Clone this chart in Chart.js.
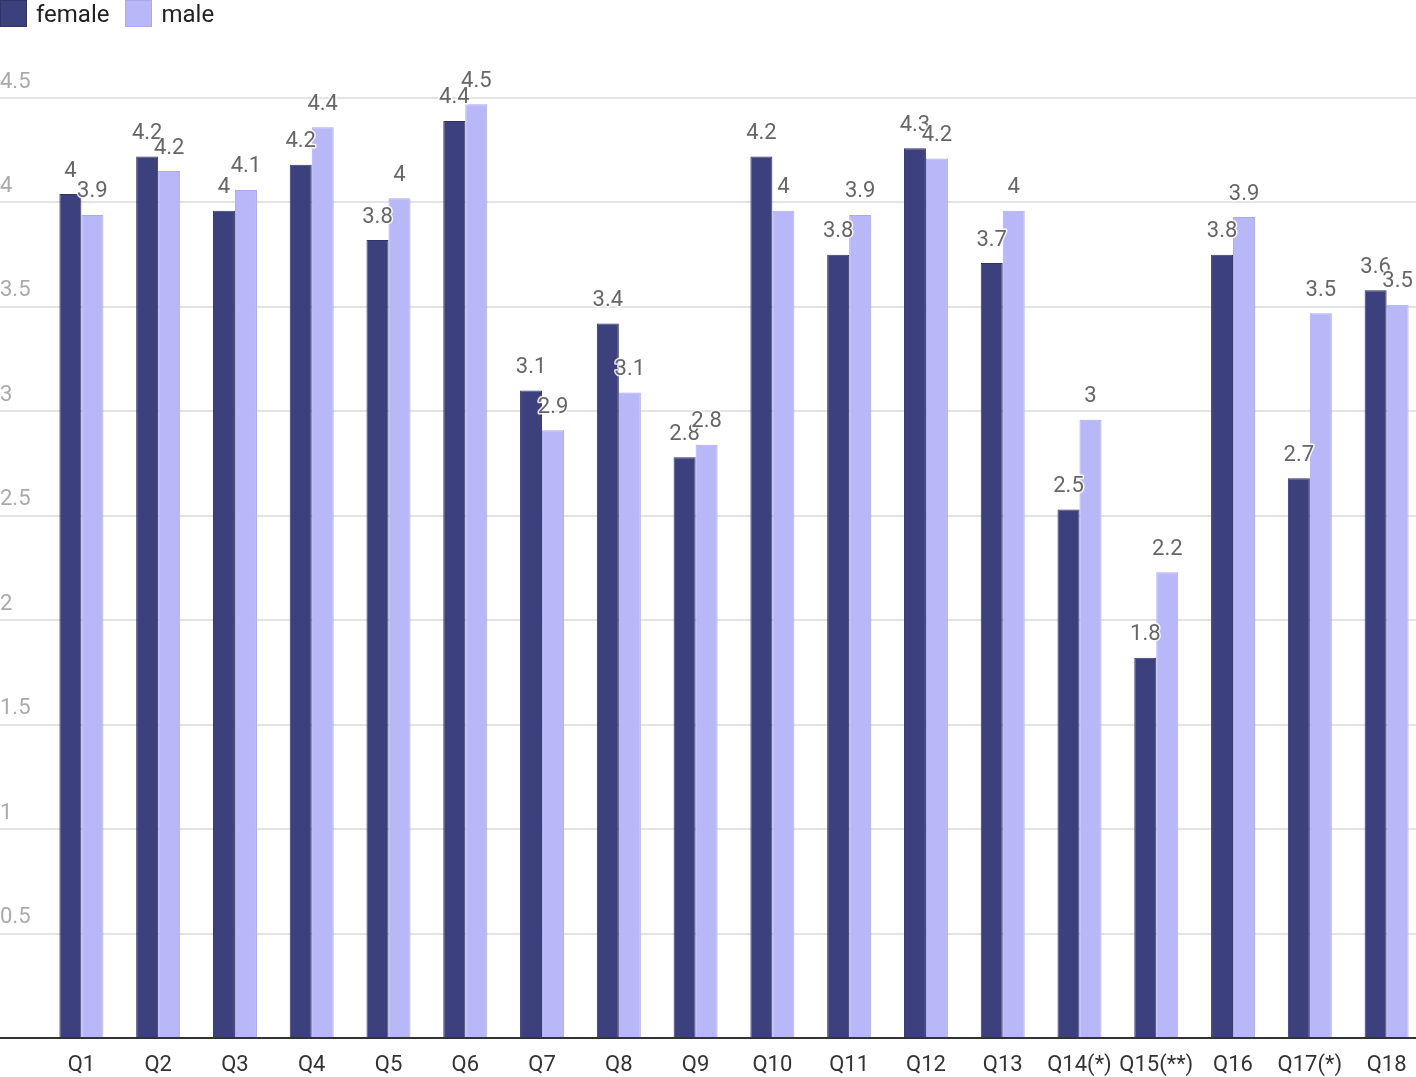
<!DOCTYPE html>
<html>
<head>
<meta charset="utf-8">
<script src="https://cdn.jsdelivr.net/npm/chart.js@4/dist/chart.umd.min.js"></script>
<style>
  html, body { margin: 0; padding: 0; background: #fff; overflow: hidden; }
  #wrap { position: relative; width: 1425px; height: 1077px; }
  #legend { position: absolute; left: 0; top: 0; display: flex; font: 24px Roboto, sans-serif; color: #222; }
  #legend .item { display: flex; align-items: center; margin-right: 16px; height: 27px; }
  #legend .box { width: 27px; height: 27px; margin-right: 9px; box-sizing: border-box; }
</style>
</head>
<body>
<div id="wrap">
  <canvas id="chart" width="1425" height="1077"></canvas>
  <div id="legend"></div>
</div>
<script>
// data
const questions = ['Q1','Q2','Q3','Q4','Q5','Q6','Q7','Q8','Q9','Q10','Q11','Q12','Q13','Q14(*)','Q15(**)','Q16','Q17(*)','Q18'];
const femaleScores = [4.04, 4.22, 3.96, 4.18, 3.82, 4.39, 3.10, 3.42, 2.78, 4.22, 3.75, 4.26, 3.71, 2.53, 1.82, 3.75, 2.68, 3.58];
const maleScores   = [3.94, 4.15, 4.06, 4.36, 4.02, 4.47, 2.91, 3.09, 2.84, 3.96, 3.94, 4.21, 3.96, 2.96, 2.23, 3.93, 3.47, 3.51];
const yTicks = [0, 0.5, 1, 1.5, 2, 2.5, 3, 3.5, 4, 4.5];

function fmt(v) {
  return String(Math.round(v * 10) / 10);
}

// value labels above bars
const barLabels = {
  id: 'barLabels',
  afterDatasetsDraw(chart) {
    const ctx = chart.ctx;
    ctx.save();
    ctx.font = '22px Roboto, sans-serif';
    ctx.textAlign = 'center';
    ctx.textBaseline = 'middle';
    ctx.lineJoin = 'round';
    chart.data.datasets.forEach((ds, i) => {
      chart.getDatasetMeta(i).data.forEach((bar, j) => {
        const txt = fmt(ds.data[j]);
        ctx.strokeStyle = 'rgba(255,255,255,0.85)';
        ctx.lineWidth = 3;
        ctx.strokeText(txt, bar.x, bar.y - 23);
        ctx.fillStyle = '#666';
        ctx.fillText(txt, bar.x, bar.y - 23);
      });
    });
    ctx.restore();
  }
};

const chart = new Chart(document.getElementById('chart'), {
  type: 'bar',
  data: {
    labels: questions,
    datasets: [{
      label: 'female',
      data: femaleScores,
      backgroundColor: '#3c407c',
      borderColor: '#30336a',
      borderWidth: 1,
      barPercentage: 1,
      categoryPercentage: 0.573
    }, {
      label: 'male',
      data: maleScores,
      backgroundColor: '#b8b8f8',
      borderColor: '#a9a9ee',
      borderWidth: 1,
      barPercentage: 1,
      categoryPercentage: 0.573
    }]
  },
  options: {
    responsive: false,
    animation: false,
    layout: { padding: { top: 98, left: 0, right: 0, bottom: 0 } },
    plugins: {
      legend: { display: false },
      tooltip: { enabled: false }
    },
    scales: {
      x: {
        grid: { display: false },
        border: { display: false },
        ticks: {
          color: '#333',
          font: { family: 'Roboto', size: 22 },
          padding: 6,
          maxRotation: 0,
          autoSkip: false
        },
        afterFit(scale) { scale.height = 39; }
      },
      y: {
        min: 0,
        max: 4.5,
        afterBuildTicks(scale) { scale.ticks = yTicks.map(v => ({ value: v })); },
        grid: {
          color: ctx => ctx.tick && ctx.tick.value === 0 ? '#333' : '#e3e3e3',
          lineWidth: 2,
          drawTicks: true,
          tickLength: 43
        },
        border: { display: false },
        ticks: {
          color: '#aaa',
          font: { family: 'Roboto', size: 22 },
          padding: 0,
          crossAlign: 'far',
          labelOffset: -16,
          callback: v => v === 0 ? '' : String(v)
        },
        afterFit(scale) { scale.width = 43; }
      }
    }
  },
  plugins: [barLabels]
});

// html legend
const legend = document.getElementById('legend');
chart.data.datasets.forEach(ds => {
  const item = document.createElement('div');
  item.className = 'item';
  const box = document.createElement('span');
  box.className = 'box';
  box.style.background = ds.backgroundColor;
  box.style.border = '1px solid ' + ds.borderColor;
  const txt = document.createElement('span');
  txt.textContent = ds.label;
  item.appendChild(box);
  item.appendChild(txt);
  legend.appendChild(item);
});
</script>
</body>
</html>
